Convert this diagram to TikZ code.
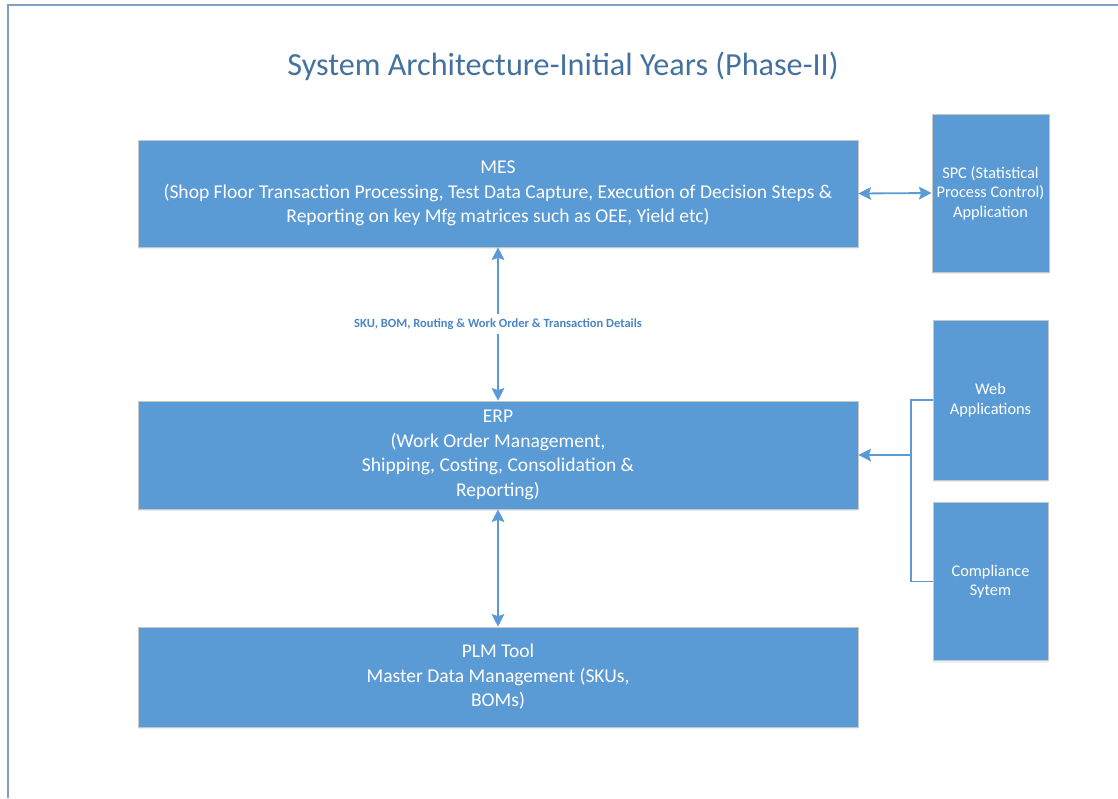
\documentclass[tikz,border=0pt]{standalone}
\usepackage{fontspec}
\setmainfont{Carlito}
\usetikzlibrary{arrows.meta, shadows}
\definecolor{boxblue}{RGB}{91,155,213}
\definecolor{titleblue}{RGB}{68,114,160}
\definecolor{framegray}{RGB}{127,159,196}
\definecolor{labelblue}{RGB}{74,134,197}
\tikzstyle{mainbox} = [rectangle, minimum width=18cm, text centered, align=center, fill=boxblue, draw=black!22, text=white, font=\fontsize{13.9}{17.4}\selectfont, drop shadow={shadow xshift=0pt, shadow yshift=-1.5pt, opacity=0.25, fill=boxblue!60}]
\tikzstyle{sidebox} = [rectangle, minimum width=2.875cm, minimum height=3.95cm, text centered, align=center, fill=boxblue, draw=black!22, text=white, font=\fontsize{11.6}{13.8}\selectfont, drop shadow={shadow xshift=0pt, shadow yshift=-1.5pt, opacity=0.25, fill=boxblue!60}]
\tikzstyle{arrow} = [line width=1.3pt, draw=boxblue, {Stealth[length=9pt, width=9pt, inset=1.5pt]}-{Stealth[length=9pt, width=9pt, inset=1.5pt]}]
\tikzstyle{link} = [line width=1pt, draw=boxblue]
\tikzstyle{flowlabel} = [fill=white, inner sep=3pt, text=labelblue, font=\fontsize{8.9}{10}\selectfont\bfseries]

\begin{document}
\begin{tikzpicture}[x=0.025cm, y=-0.025cm]
      \useasboundingbox (0,0) rectangle (1118,798);
      \draw [framegray, line width=1.5pt] (8,798) -- (8,5) -- (1118,5);

      \node (title) at (563,66) [text=titleblue, font=\fontsize{22.9}{26}\selectfont] {System Architecture-Initial Years (Phase-II)};

      \node (mes)  at (498,193.5) [mainbox, minimum height=2.675cm] {MES\\(Shop Floor Transaction Processing, Test Data Capture, Execution of Decision Steps \&\\Reporting on key Mfg matrices such as OEE, Yield etc)};
      \node (erp)  at (498,455)   [mainbox, minimum height=2.7cm]   {ERP\\(Work Order Management,\\Shipping, Costing, Consolidation \&\\Reporting)};
      \node (plm)  at (498,677)   [mainbox, minimum height=2.5cm]   {PLM Tool\\Master Data Management (SKUs,\\BOMs)};

      \node (spc)  at (990.5,193)   [sidebox] {SPC (Statistical\\Process Control)\\Application};
      \node (web)  at (990.5,400)   [sidebox, minimum height=4cm] {Web\\Applications};
      \node (comp) at (990.5,581.5) [sidebox] {Compliance\\Sytem};

      \coordinate (fork) at (911,455);

      \draw [arrow] (mes) -- node[flowlabel] {SKU, BOM, Routing \& Work Order \& Transaction Details} (erp);
      \draw [arrow] (erp) -- (plm);
      \draw [arrow] (mes.east) -- (spc.west);

      \draw [link] (web.west) -| (fork) |- (comp.west);
      \draw [link, -{Stealth[length=9pt, width=9pt, inset=1.5pt]}] (fork) -- (erp.east);
    \end{tikzpicture}
\end{document}
